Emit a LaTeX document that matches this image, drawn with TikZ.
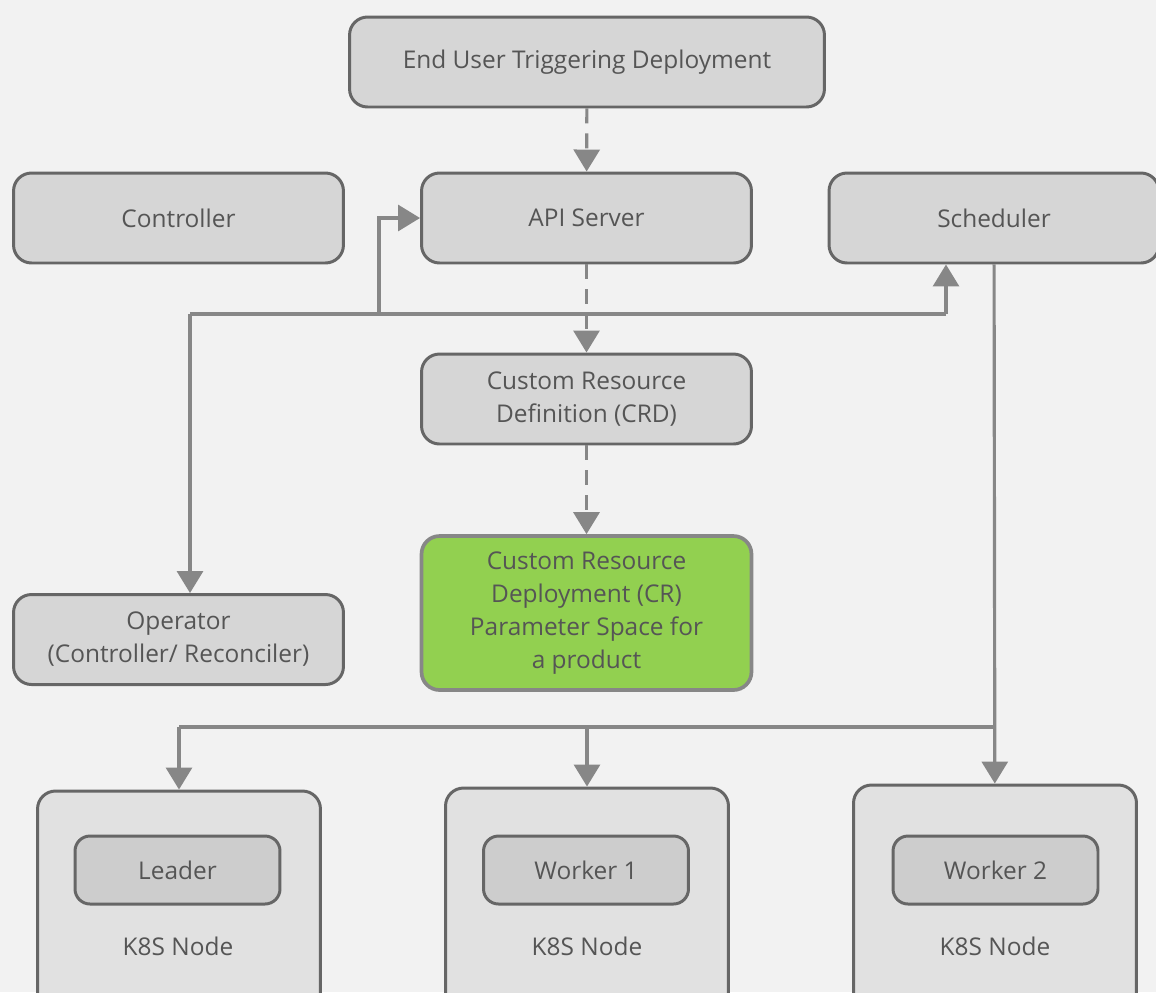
\documentclass[tikz,border=0pt]{standalone}
\usepackage{fontspec}
\setmainfont{Open Sans}
\usepackage{xcolor}
\usetikzlibrary{arrows.meta}

\definecolor{bgc}{HTML}{F2F2F2}
\definecolor{boxc}{HTML}{D6D6D6}
\definecolor{edgec}{HTML}{666666}
\definecolor{linec}{HTML}{878787}
\definecolor{textc}{HTML}{555555}
\definecolor{crgreen}{HTML}{92D050}
\definecolor{k8sc}{HTML}{E1E1E1}
\definecolor{podc}{HTML}{CDCDCD}

\tikzset{
  box/.style = {draw=edgec, line width=1.7pt, fill=boxc, rounded corners=0.36cm,
                minimum width=6.6cm, minimum height=1.8cm, text=textc, align=center,
                font=\fontsize{13.9}{18.8}\selectfont},
  crbox/.style = {box, draw=linec, line width=2.1pt, fill=crgreen, minimum height=3.08cm},
  k8sbox/.style = {box, fill=k8sc, minimum width=5.66cm, minimum height=4.8cm},
  podbox/.style = {box, fill=podc, minimum width=4.1cm, minimum height=1.36cm,
                   rounded corners=0.3cm},
  lbl/.style = {text=textc, font=\fontsize{13.9}{18.8}\selectfont},
  wire/.style = {draw=linec, line width=1.8pt},
  conn/.style = {wire, -{Triangle[width=0.52cm,length=0.44cm]}},
  dconn/.style = {conn, dash pattern=on 0.3cm off 0.2cm}
}

\begin{document}
\begin{tikzpicture}[x=0.02cm, y=-0.02cm]
\useasboundingbox (0,0) rectangle (1156,992);
\fill[bgc] (0,0) rectangle (1156,992);
\clip (0,0) rectangle (1156,992);

\node[box, minimum width=9.5cm] (user) at (587,62) {End User Triggering Deployment};
\node[box] (ctrl)  at (178.5,218) {Controller};
\node[box] (api)   at (586.5,218) {API Server};
\node[box] (sched) at (994,218) {Scheduler};
\node[box] (crd)   at (586.5,399) {Custom Resource\\Definition (CRD)};
\node[crbox] (cr)  at (586.5,613) {Custom Resource\\Deployment (CR)\\Parameter Space for\\a product};
\node[box] (op)    at (178.5,639.5) {Operator\\(Controller/ Reconciler)};

\node[k8sbox] (k1) at (179,911) {};
\node[k8sbox] (k2) at (587,908) {};
\node[k8sbox] (k3) at (995,905) {};
\node[podbox] (leader) at (177.5,870) {Leader};
\node[podbox] (w1)     at (586,870) {Worker 1};
\node[podbox] (w2)     at (995.5,870) {Worker 2};
\node[lbl] (k1lbl) at (178,946) {K8S Node};
\node[lbl] (k2lbl) at (587,946) {K8S Node};
\node[lbl] (k3lbl) at (995,946) {K8S Node};

\coordinate (busL) at (190,314);
\coordinate (busA) at (379,314);
\coordinate (busR) at (946,314);
\coordinate (busB) at (179,727);

\draw[dconn] (user) -- (api);
\draw[dconn] (api) -- (crd);
\draw[dconn] (crd) -- (cr);

\draw[wire] (busL) -- (busR);
\draw[conn] (busL) -- (busL |- op.north);
\draw[conn] (busR) -- (busR |- sched.south);
\draw[conn] (busA) |- (api.west);

\draw[wire] (busB) -- (sched.south |- busB);
\draw[conn] (sched) -- (k3);
\draw[conn] (busB) -- (k1);
\draw[conn] (k2.north |- busB) -- (k2);
\end{tikzpicture}
\end{document}
